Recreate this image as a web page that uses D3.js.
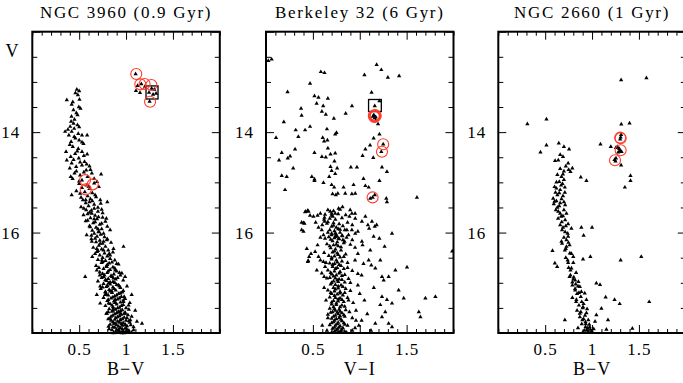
<!DOCTYPE html>
<html>
<head>
<meta charset="utf-8">
<script src="https://cdn.jsdelivr.net/npm/d3@7"></script>
<style>
  body { margin: 0; background: #fff; }
  text { font-family: "Liberation Serif", "DejaVu Serif", serif; fill: #000; }
</style>
</head>
<body>
<div id="chart"></div>
<script>
// titres et axes
const titles = ["NGC 3960 (0.9 Gyr)", "Berkeley 32 (6 Gyr)", "NGC 2660 (1 Gyr)"];
const xLabels = ["B\u2212V", "V\u2212I", "B\u2212V"];
const xDomain = [0, 2];
const yDomain = [12, 18];
const xMajor = [0.5, 1, 1.5];
const yMajor = [14, 16];

// NGC 3960 : [couleur, V]
const ngc3960Stars = [
  [0.475,13.15],[0.50,13.18],[0.486,13.26],[0.503,13.35],[0.368,13.36],[0.432,13.40],[0.496,13.50],[0.514,13.53],
  [0.439,13.56],[0.482,13.66],[0.418,13.69],[0.45,13.75],[0.414,13.79],[0.482,13.86],[0.404,13.89],[0.447,13.93],
  [0.35,13.99],[0.42,13.99],[0.49,14.03],[0.39,14.06],[0.53,14.06],[0.585,14.06],[0.447,14.09],[0.50,14.16],
  [0.414,14.19],[0.546,14.23],[0.432,14.29],[0.49,14.33],[0.36,14.39],[0.53,14.39],[0.457,14.43],[0.585,14.44],
  [0.41,14.49],[0.496,14.52],[0.557,14.59],[0.368,14.56],[0.42,14.62],[0.53,14.66],[0.468,14.69],[0.61,14.68],
  [0.40,14.72],[0.575,14.76],[0.45,14.82],[0.635,14.82],[0.51,14.86],[0.41,14.89],[0.59,14.89],[0.734,14.84],
  [0.53,14.96],[0.69,14.99],[0.60,15.09],[0.42,15.25],[0.51,15.22],[0.67,15.25],[0.54,15.35],[0.725,15.35],
  [0.61,15.39],[0.80,15.39],[0.52,15.49],[0.66,15.52],[0.575,15.55],[0.74,15.54],[0.635,15.62],[0.546,15.65],
  [0.706,15.69],[0.79,15.72],[0.59,15.76],[0.67,15.79],[0.74,15.82],[0.617,15.89],[0.83,15.95],[0.706,15.99],
  [0.58,16.05],[0.67,16.12],[0.76,16.02],[0.635,16.18],[0.724,16.22],[0.795,16.15],[0.688,16.32],[0.76,16.35],
  [0.866,16.32],[0.973,16.28],[0.67,16.42],[0.83,16.45],[0.742,16.55],[0.90,16.62],[0.795,16.68],[0.688,16.75],
  [0.884,16.75],[0.955,16.81],[0.76,16.88],[0.866,16.91],[0.99,16.88],[0.564,16.88],[0.813,17.01],[0.92,17.05],
  [0.724,17.07],[1.01,17.07],[0.848,17.17],[0.777,17.24],[0.938,17.21],[1.06,17.24],[0.688,17.24],[0.884,17.34],
  [0.813,17.41],[0.973,17.38],[0.724,17.41],[1.027,17.45],[0.866,17.51],[0.92,17.58],[0.795,17.61],[0.99,17.61],
  [1.098,17.55],[0.83,17.71],[0.938,17.74],[1.045,17.74],[0.884,17.81],[0.99,17.84],[1.116,17.77],[0.813,17.87],
  [0.92,17.94],[1.027,17.97],[0.866,18.0],[0.955,18.0],[1.08,17.94],[1.17,17.81],
  [0.46,13.22],[0.42,13.45],[0.47,13.62],[0.44,13.83],[0.38,13.95],[0.50,13.90],[0.46,14.12],[0.53,14.20],
  [0.40,14.25],[0.48,14.38],[0.55,14.47],[0.44,14.55],[0.51,14.60],[0.58,14.64],[0.47,14.78],[0.55,14.80],
  [0.62,14.75],[0.43,14.93],[0.50,14.98],[0.66,14.93],
  [0.50,15.03],[0.58,15.06],[0.66,15.02],[0.53,15.11],[0.61,15.13],[0.71,15.09],[0.47,15.17],[0.56,15.19],
  [0.64,15.21],[0.59,15.27],[0.52,15.30],[0.68,15.29],[0.62,15.33],[0.57,15.41],[0.66,15.44],[0.73,15.42],
  [0.60,15.47],[0.55,15.52],
  [0.63,15.56],[0.70,15.58],[0.59,15.63],[0.67,15.66],[0.75,15.61],[0.62,15.71],[0.69,15.73],[0.57,15.77],
  [0.65,15.81],[0.72,15.84],[0.78,15.78],[0.61,15.87],[0.68,15.90],[0.74,15.93],[0.64,15.96],[0.71,15.98],[0.80,15.88],
  [0.66,16.02],[0.73,16.04],[0.69,16.08],[0.77,16.09],[0.63,16.13],[0.72,16.16],[0.80,16.13],[0.68,16.19],
  [0.75,16.22],[0.84,16.20],[0.71,16.26],[0.78,16.28],[0.65,16.30],[0.74,16.33],[0.81,16.35],[0.69,16.38],
  [0.77,16.41],[0.86,16.39],[0.72,16.45],[0.80,16.47],[0.75,16.50],[0.83,16.52],
  [0.70,16.54],[0.78,16.56],[0.88,16.55],[0.74,16.60],[0.82,16.61],[0.92,16.63],[0.68,16.66],[0.79,16.67],
  [0.86,16.69],[0.76,16.72],[0.83,16.74],[0.90,16.77],[0.72,16.79],[0.80,16.80],[0.87,16.83],[0.77,16.85],
  [0.84,16.86],[0.94,16.85],[0.74,16.90],[0.81,16.92],[0.89,16.93],[0.79,16.96],[0.86,16.98],[0.83,16.99],
  [0.97,16.95],[0.70,16.97],
  [0.76,17.02],[0.83,17.03],[0.90,17.04],[0.79,17.08],[0.86,17.09],[0.94,17.10],[0.73,17.12],[0.82,17.14],
  [0.89,17.15],[0.97,17.16],[0.78,17.19],[0.85,17.20],[0.92,17.22],[0.81,17.25],[0.88,17.27],[0.95,17.28],
  [0.76,17.30],[0.84,17.31],[0.91,17.33],[0.99,17.32],[0.80,17.36],[0.87,17.37],[0.94,17.39],[0.83,17.42],
  [0.90,17.43],[0.97,17.44],[0.78,17.46],[0.86,17.48],[0.93,17.49],
  [0.82,17.52],[0.89,17.53],[0.96,17.54],[1.03,17.53],[0.85,17.57],[0.92,17.58],[0.99,17.59],[0.79,17.61],
  [0.88,17.62],[0.95,17.63],[1.02,17.64],[0.84,17.67],[0.91,17.68],[0.98,17.69],[1.06,17.67],[0.81,17.72],
  [0.88,17.73],[0.94,17.74],[1.00,17.75],[0.86,17.78],[0.93,17.79],[0.97,17.80],[1.04,17.79],[0.83,17.83],
  [0.90,17.84],[0.96,17.85],[1.01,17.86],[0.88,17.89],[0.94,17.90],[0.99,17.91],[1.08,17.88],[0.85,17.94],
  [0.92,17.95],[0.97,17.96],[1.03,17.95],[0.89,17.98],[0.95,17.99],[1.00,17.98],
  [0.75,16.58],[0.85,16.59],[0.80,16.64],[0.71,16.70],[0.88,16.71],[0.81,16.77],[0.93,16.80],[0.75,16.82],
  [0.85,16.88],[0.78,16.94],[0.91,16.90],[0.88,17.00],[0.80,17.06],[0.93,17.07],[0.75,17.09],[0.87,17.12],
  [0.83,17.17],[0.96,17.19],[0.79,17.23],[0.90,17.25],[0.86,17.29],[0.93,17.31],[0.81,17.34],[0.97,17.35],
  [0.89,17.40],[0.85,17.45],[0.95,17.46],[0.91,17.50],[1.00,17.50],[0.86,17.55],[0.94,17.56],[0.81,17.58],
  [0.98,17.61],[0.90,17.60],[0.86,17.65],[0.93,17.66],[1.01,17.70],[0.89,17.70],[0.96,17.72],[0.84,17.75],
  [0.91,17.77],[1.03,17.76],[0.95,17.82],[0.87,17.81],[0.99,17.83],[0.92,17.87],[1.05,17.84],[0.86,17.88],
  [0.96,17.92],[1.01,17.93],[0.90,17.93],[0.87,17.99],[0.93,17.97],[0.98,18.0],[1.06,17.99],[0.82,17.92],
  [0.94,17.62],[0.88,17.40],[0.78,17.18],[0.72,16.85],[0.98,17.28],[1.04,17.40],
  [0.57,15.35],[0.64,15.37],[0.70,15.50],[0.61,15.60],[0.66,15.73],[0.75,15.70],[0.70,15.93],[0.63,16.06],
  [0.76,16.18],[0.70,16.36],[0.82,16.42],[0.64,16.48],
  // clump
  [1.102,12.843],[1.123,13.076],[1.163,13.04],[1.202,13.09],[1.245,13.21],[1.273,13.13],[1.302,13.15],
  [1.32,13.23],[1.288,13.25],[1.251,13.39],[1.149,13.215],[1.106,13.175]
];
const ngc3960Circles = [[1.109,12.843],[1.152,13.048],[1.198,13.042],[1.27,13.06],[1.256,13.394],
  [0.563,14.955],[0.645,15.04],[0.57,15.14]];
const ngc3960Box = [1.213, 13.08, 1.341, 13.34];

// Berkeley 32
const berk32Stars = [
  [0.025,12.58],[0.06,12.55],[1.18,12.66],[1.23,12.76],[1.05,12.86],[0.585,12.80],[0.624,12.82],[1.30,12.91],
  [1.42,12.88],[0.47,13.03],[0.23,13.20],[1.126,13.21],[0.517,13.28],[0.56,13.31],[0.66,13.33],[0.54,13.43],
  [0.61,13.48],[1.21,13.38],[1.16,13.48],[0.374,13.53],[0.38,13.67],[0.596,13.59],[0.638,13.65],[0.917,13.48],
  [0.85,13.63],[0.724,13.73],[1.195,13.84],[0.19,13.80],[0.317,13.96],[0.417,13.96],[0.345,14.09],[0.47,13.89],
  [0.107,14.11],[0.65,13.94],[0.738,14.04],[0.752,14.01],[0.605,14.11],[0.62,14.18],[0.655,14.16],[1.21,14.04],
  [1.148,14.12],[1.06,14.34],[1.11,14.26],[1.03,14.47],[1.144,14.51],[1.25,14.24],[1.23,14.39],[0.168,14.41],
  [0.139,14.56],[0.232,14.52],[0.257,14.48],[0.31,14.34],[0.517,14.41],
  [0.596,14.49],[0.638,14.50],[0.688,14.44],[0.738,14.42],[0.73,14.58],[0.66,14.32],[0.29,14.72],[0.688,14.69],
  [0.759,14.72],[0.70,14.77],[0.738,14.83],[0.674,14.89],[0.489,14.89],[0.517,14.94],[0.168,14.87],[0.221,14.89],
  [0.905,14.70],[0.97,14.70],[1.237,14.70],[1.29,14.79],[1.04,14.93],
  [0.203,15.15],[0.517,14.97],[0.613,15.01],[0.70,15.05],[0.727,15.10],[0.827,15.10],[0.845,15.22],[0.934,15.05],
  [1.06,15.07],[1.095,15.10],[1.21,14.97],[0.71,15.23],[0.745,15.25],[0.766,15.22],[0.916,15.23],[0.952,15.22],
  [1.112,15.32],[1.16,15.25],[1.283,15.32],[1.29,15.39],[1.61,15.30],[0.424,15.58],[0.453,15.58],[0.38,15.80],
  [0.41,15.82],[0.47,15.66],[0.506,15.68],[0.55,15.66],[0.624,15.70],[0.624,15.78],[0.65,15.82],[0.60,15.85],
  [0.685,15.58],[0.70,15.62],[0.713,15.68],[0.738,15.62],[0.774,15.52],[0.816,15.49],[0.898,15.55],[0.916,15.62],
  [0.952,15.72],[1.023,15.78],[1.06,15.68],[1.087,15.85],[1.13,15.78],[1.16,15.88],[1.18,15.85],[1.10,15.92],
  [0.40,15.98],[0.595,15.95],[0.613,16.05],[0.63,16.12],[0.70,16.05],[0.738,16.02],[0.756,16.08],[0.774,16.12],
  [0.816,16.07],[0.838,16.18],[0.863,15.95],[0.916,15.95],[0.952,16.02],[0.98,15.98],[1.023,16.18],[1.03,16.25],
  [1.112,16.35],[1.148,16.08],[1.209,16.12],[1.265,16.28],[1.344,16.02],[1.986,16.37],
  [0.435,16.32],[0.46,16.48],[0.446,16.58],[0.524,16.38],[0.56,16.48],[0.613,16.58],[0.63,16.68],[0.542,16.75],
  [0.595,16.81],[0.65,16.91],
  [1.095,16.55],[1.123,16.65],[1.166,16.71],[1.219,16.55],[1.237,16.88],[1.255,16.95],[1.308,16.88],[1.38,16.75],
  [1.504,16.69],[1.415,17.15],[1.469,17.31],[1.70,17.31],[1.807,17.28],[1.63,17.58],[1.647,17.68],[1.237,17.28],
  [1.29,17.34],[1.344,17.41],[1.219,17.44],[1.272,17.58],[1.237,17.68],[1.166,17.81],[1.308,17.81],[1.344,17.88],
  [0.417,15.59],[0.446,15.56],[0.40,15.81],[0.38,15.95],[0.48,16.42],[0.45,16.56],
  [0.66,15.55],[0.72,15.57],[0.79,15.54],[0.63,15.64],[0.70,15.66],[0.77,15.63],[0.85,15.65],[0.68,15.72],
  [0.74,15.74],[0.81,15.71],[0.66,15.79],[0.72,15.81],[0.78,15.83],[0.87,15.80],[0.70,15.88],[0.75,15.90],
  [0.82,15.87],[0.68,15.95],[0.73,15.97],[0.79,15.94],[0.56,15.90],[0.92,15.85],
  [0.70,16.02],[0.75,16.04],[0.81,16.06],[0.67,16.09],[0.73,16.11],[0.78,16.13],[0.86,16.10],[0.71,16.17],
  [0.76,16.19],[0.83,16.21],[0.65,16.23],[0.72,16.25],[0.77,16.27],[0.90,16.24],[0.69,16.31],[0.74,16.33],
  [0.80,16.35],[0.71,16.39],[0.76,16.41],[0.85,16.43],[0.67,16.46],[0.73,16.47],[0.79,16.49],[0.62,16.40],[0.95,16.30],
  [0.70,16.53],[0.75,16.55],[0.81,16.57],[0.68,16.61],[0.73,16.62],[0.78,16.64],[0.87,16.60],[0.71,16.68],
  [0.76,16.70],[0.83,16.72],[0.66,16.75],[0.73,16.77],[0.79,16.78],[0.92,16.76],[0.70,16.83],[0.75,16.85],
  [0.81,16.86],[0.68,16.90],[0.74,16.91],[0.78,16.93],[0.88,16.92],[0.72,16.97],[0.77,16.98],[0.84,16.99],
  [0.62,16.88],[0.98,16.82],
  [0.69,17.03],[0.74,17.04],[0.80,17.05],[0.72,17.10],[0.77,17.11],[0.85,17.12],[0.66,17.15],[0.73,17.17],
  [0.79,17.18],[0.90,17.16],[0.70,17.22],[0.76,17.23],[0.82,17.25],[0.68,17.29],[0.74,17.30],[0.79,17.31],
  [0.87,17.30],[0.72,17.36],[0.77,17.37],[0.83,17.38],[0.70,17.43],[0.75,17.44],[0.81,17.45],[0.93,17.40],
  [0.64,17.35],[1.00,17.22],
  [0.68,17.51],[0.73,17.52],[0.78,17.53],[0.85,17.54],[0.71,17.58],[0.76,17.59],[0.81,17.60],[0.89,17.58],
  [0.66,17.63],[0.74,17.65],[0.79,17.66],[0.84,17.67],[0.70,17.71],[0.75,17.72],[0.80,17.73],[0.92,17.70],
  [0.72,17.78],[0.77,17.79],[0.83,17.80],[0.68,17.84],[0.74,17.85],[0.79,17.86],[0.87,17.85],[0.71,17.91],
  [0.76,17.92],[0.81,17.93],[0.95,17.90],[0.73,17.97],[0.78,17.98],[0.84,17.97],[0.65,17.95],[1.02,17.75],
  [0.95,16.55],[1.02,16.85],[0.98,17.05],[1.05,17.35],[0.96,17.55],[1.08,17.62],[1.12,17.95],[0.99,17.85],[1.15,17.10],
  [0.72,15.86],[0.77,15.93],[0.66,16.00],[0.79,16.00],[0.74,16.08],[0.69,16.14],[0.82,16.15],[0.75,16.24],
  [0.68,16.27],[0.80,16.29],[0.73,16.37],[0.77,16.44],[0.70,16.50],[0.83,16.48],[0.76,16.59],[0.71,16.64],
  [0.80,16.66],[0.74,16.72],[0.69,16.80],[0.78,16.81],[0.84,16.84],[0.72,16.87],[0.76,16.95],[0.81,16.94],
  [0.70,17.00],[0.77,17.07],[0.82,17.08],[0.74,17.13],[0.69,17.20],[0.79,17.21],[0.84,17.20],[0.73,17.26],
  [0.77,17.33],[0.81,17.34],[0.70,17.39],[0.75,17.41],[0.79,17.48],[0.72,17.48],[0.84,17.47],[0.74,17.55],
  [0.79,17.57],[0.69,17.59],[0.77,17.62],[0.83,17.64],[0.72,17.67],[0.78,17.70],[0.73,17.75],[0.81,17.76],
  [0.76,17.82],[0.70,17.80],[0.84,17.83],[0.78,17.89],[0.73,17.89],[0.82,17.90],[0.75,17.95],[0.80,17.96],
  [0.70,17.99],[0.86,17.99],[0.77,17.99],[0.66,17.70],[0.88,17.35],[0.64,16.60],[0.87,16.70],[0.90,17.00],
  [0.62,17.10],[0.92,17.95],[0.96,17.75],[0.60,17.85],
  [0.58,15.62],[0.62,15.74],[0.89,15.68],[0.95,15.62],[0.53,15.80],[0.84,15.95],[0.88,16.05],[0.58,16.10],
  [0.55,16.25],[0.92,16.15],[0.98,16.42],[0.58,16.55],[1.04,16.62],
  // clump
  [1.15,13.66],[1.17,13.70],[1.16,13.72],[1.14,13.69],[1.17,13.77],[1.137,15.30]
];
const berk32Circles = [[1.15,13.67],[1.16,13.69],[1.17,13.68],[1.155,13.70],[1.165,13.66],
  [1.25,14.24],[1.237,14.39],[1.137,15.30]];
const berk32Box = [1.094, 13.35, 1.23, 13.59];

// NGC 2660
const ngc2660Stars = [
  [0.31,13.84],[0.514,13.745],[1.312,13.845],[1.40,13.825],[1.31,12.96],[1.58,12.92],
  [0.45,14.40],[0.514,14.26],[0.645,14.22],[0.70,14.29],[0.755,14.34],[1.09,14.24],[0.606,14.57],[0.64,14.56],
  [0.69,14.49],[0.745,14.62],[0.66,14.73],[0.70,14.78],[0.75,14.75],[0.77,14.79],[0.79,14.72],[0.674,14.89],
  [0.70,14.95],[0.65,14.99],[0.685,15.03],[0.88,14.90],[0.94,14.97],[0.62,15.12],[0.66,15.15],[0.71,15.10],
  [0.65,15.21],[0.60,15.09],[0.585,15.32],[0.62,15.37],[0.674,15.33],[0.70,15.39],[0.592,15.43],[0.65,15.47],
  [0.713,15.45],[0.614,15.55],[0.66,15.62],[0.69,15.67],[0.727,15.62],[0.638,15.72],[0.677,15.79],[0.713,15.75],
  [0.745,15.83],[0.78,15.92],[0.69,15.90],[0.886,15.90],[1.0,15.90],[0.713,15.99],[0.745,16.08],[0.727,16.15],
  [0.674,16.18],[0.91,16.06],[0.578,16.36],[0.71,16.35],[0.763,16.41],[0.80,16.48],[0.727,16.28],[0.748,16.20],
  [0.603,16.61],[0.628,16.68],[0.904,16.53],[0.982,16.48],[1.305,16.55],[1.525,16.48],[0.745,16.60],[0.78,16.71],
  [0.77,16.85],[0.805,16.89],[0.79,16.99],[0.826,17.03],[0.855,16.98],[0.87,17.08],[0.819,17.12],[0.886,17.18],
  [0.84,17.22],[0.922,17.21],[0.833,17.34],[0.89,17.38],[0.94,17.34],[0.904,17.48],[0.947,17.52],[0.869,17.61],
  [0.925,17.65],[0.96,17.74],[0.897,17.74],[0.933,17.82],[0.975,17.88],[0.947,17.94],[0.996,17.96],[1.018,17.92],
  [1.032,17.77],[1.046,17.64],[0.71,17.74],[1.046,17.01],[1.145,17.29],[1.24,17.34],[1.295,17.42],[1.61,17.38],
  [1.10,17.51],[1.17,17.74],[1.153,17.93],[1.43,17.91],[1.085,17.04],[1.41,14.87],[1.41,14.97],[1.35,15.10],
  [0.66,14.45],[0.72,14.68],[0.63,14.85],[0.69,14.84],[0.62,15.00],[0.67,15.06],[0.63,15.25],[0.69,15.27],
  [0.60,15.38],[0.66,15.41],[0.64,15.58],[0.70,15.55],[0.67,15.68],[0.72,15.87],[0.68,15.95],[0.74,16.02],
  [0.70,16.10],[0.76,16.25],[0.72,16.32],[0.78,16.42],[0.74,16.55],[0.80,16.60],[0.77,16.75],[0.83,16.80],
  [0.80,16.93],[0.85,17.07],[0.82,17.15],[0.88,17.28],[0.86,17.45],[0.91,17.42],[0.88,17.58],[0.94,17.60],
  [0.91,17.72],[0.97,17.83],[0.93,17.88],[1.00,17.99],[0.96,17.97],[0.90,17.99],[0.84,17.55],[0.79,17.30],
  [0.82,16.95],[0.86,17.20],[0.83,17.38],[0.90,17.50],[0.87,17.68],[0.93,17.78],[0.95,17.90],[0.89,17.82],
  [0.98,17.93],[0.92,17.95],[0.85,17.90],[0.76,16.88],[0.79,17.05],[0.72,16.50],[0.75,16.70],[0.68,16.22],
  [0.66,15.85],[0.63,15.50],[0.61,15.20],[0.71,15.20],
  // clump
  [1.305,14.10],[1.30,14.14],[1.31,14.05],[1.29,14.33],[1.30,14.37],[1.315,14.39],[1.28,14.40],
  [1.24,14.55],[1.255,14.52],[1.25,14.58],[1.20,14.29],[1.27,14.29],[1.255,14.31],[1.31,14.66]
];
const ngc2660Circles = [[1.305,14.12],[1.30,14.11],[1.305,14.36],[1.245,14.56]];

const panels = [
  { title: titles[0], xLabel: xLabels[0], left: 32.3, stars: ngc3960Stars, circles: ngc3960Circles, box: ngc3960Box, yLabel: "V" },
  { title: titles[1], xLabel: xLabels[1], left: 266, stars: berk32Stars, circles: berk32Circles, box: berk32Box },
  { title: titles[2], xLabel: xLabels[2], left: 498.3, stars: ngc2660Stars, circles: ngc2660Circles }
];

const width = 683, height = 383;
const plotTop = 31.7, plotBottom = 333, panelW = 187.5;

const svg = d3.select("#chart").append("svg")
  .attr("width", width).attr("height", height);
svg.append("rect").attr("width", width).attr("height", height).attr("fill", "#fff");

const tri = d3.symbol().type(d3.symbolTriangle).size(8);
const steps = (a, b, s) => d3.range(Math.round(a / s), Math.round(b / s) + 1).map(v => +(v * s).toFixed(2));

panels.forEach(p => {
  const x = d3.scaleLinear().domain(xDomain).range([p.left, p.left + panelW]);
  const y = d3.scaleLinear().domain(yDomain).range([plotTop, plotBottom]);
  const g = svg.append("g");

  // ticks mineurs puis majeurs, sur les 4 côtés
  const xMinor = steps(0, 2, 0.1).filter(v => !xMajor.includes(v));
  const yMinor = steps(12, 18, 0.5).filter(v => v % 2 !== 0);
  const yMaj = [12, 14, 16, 18];
  const tick = (axis, vals, len, tr) => g.append("g").attr("transform", tr)
    .call(axis.tickValues(vals).tickSizeInner(-len).tickSizeOuter(0).tickFormat(""))
    .call(a => a.select(".domain").remove());

  tick(d3.axisBottom(x), xMinor, 4, `translate(0,${plotBottom})`);
  tick(d3.axisTop(x), xMinor, 4, `translate(0,${plotTop})`);
  tick(d3.axisBottom(x), xMajor, 8, `translate(0,${plotBottom})`);
  tick(d3.axisTop(x), xMajor, 8, `translate(0,${plotTop})`);
  tick(d3.axisLeft(y), yMinor, 5, `translate(${p.left},0)`);
  tick(d3.axisRight(y), yMinor, 5, `translate(${p.left + panelW},0)`);
  tick(d3.axisLeft(y), yMaj, 8, `translate(${p.left},0)`);
  tick(d3.axisRight(y), yMaj, 8, `translate(${p.left + panelW},0)`);
  g.selectAll(".tick line").attr("stroke", "#000").attr("stroke-width", 1);

  // étiquettes
  g.append("g").attr("transform", `translate(0,${plotBottom})`)
    .call(d3.axisBottom(x).tickValues(xMajor).tickSize(0).tickPadding(10).tickFormat(d3.format("~g")))
    .call(a => a.select(".domain").remove())
    .selectAll("text").attr("font-size", 17).attr("letter-spacing", 1)
    .attr("font-family", "Liberation Serif");
  g.append("g").attr("transform", `translate(${p.left},0)`)
    .call(d3.axisLeft(y).tickValues(yMajor).tickSize(0).tickPadding(12).tickFormat(d3.format("~g")))
    .call(a => a.select(".domain").remove())
    .selectAll("text").attr("font-size", 17).attr("letter-spacing", 1)
    .attr("font-family", "Liberation Serif");

  // étoiles
  g.append("g").selectAll("path").data(p.stars).join("path")
    .attr("d", tri)
    .attr("transform", d => `translate(${x(d[0])},${y(d[1])})`)
    .attr("fill", "#000");

  // boîte
  if (p.box) {
    g.append("rect")
      .attr("x", x(p.box[0])).attr("y", y(p.box[1]))
      .attr("width", x(p.box[2]) - x(p.box[0])).attr("height", y(p.box[3]) - y(p.box[1]))
      .attr("fill", "none").attr("stroke", "#000").attr("stroke-width", 1.3);
  }

  // cercles rouges
  g.append("g").selectAll("circle").data(p.circles).join("circle")
    .attr("cx", d => x(d[0])).attr("cy", d => y(d[1])).attr("r", 5.5)
    .attr("fill", "none").attr("stroke", "#ff3a2a").attr("stroke-width", 1.1);

  // cadre
  g.append("rect").attr("x", p.left).attr("y", plotTop)
    .attr("width", panelW).attr("height", plotBottom - plotTop)
    .attr("fill", "none").attr("stroke", "#000").attr("stroke-width", 2);

  // titre et label x
  g.append("text").attr("x", p.left + panelW / 2).attr("y", 18)
    .attr("text-anchor", "middle").attr("font-size", 17).attr("letter-spacing", 1.7)
    .text(p.title);
  g.append("text").attr("x", p.left + panelW / 2).attr("y", 375)
    .attr("text-anchor", "middle").attr("font-size", 18).attr("letter-spacing", 1)
    .text(p.xLabel);
  if (p.yLabel) {
    g.append("text").attr("x", 12).attr("y", 57)
      .attr("text-anchor", "middle").attr("font-size", 18)
      .text(p.yLabel);
  }
});
</script>
</body>
</html>
